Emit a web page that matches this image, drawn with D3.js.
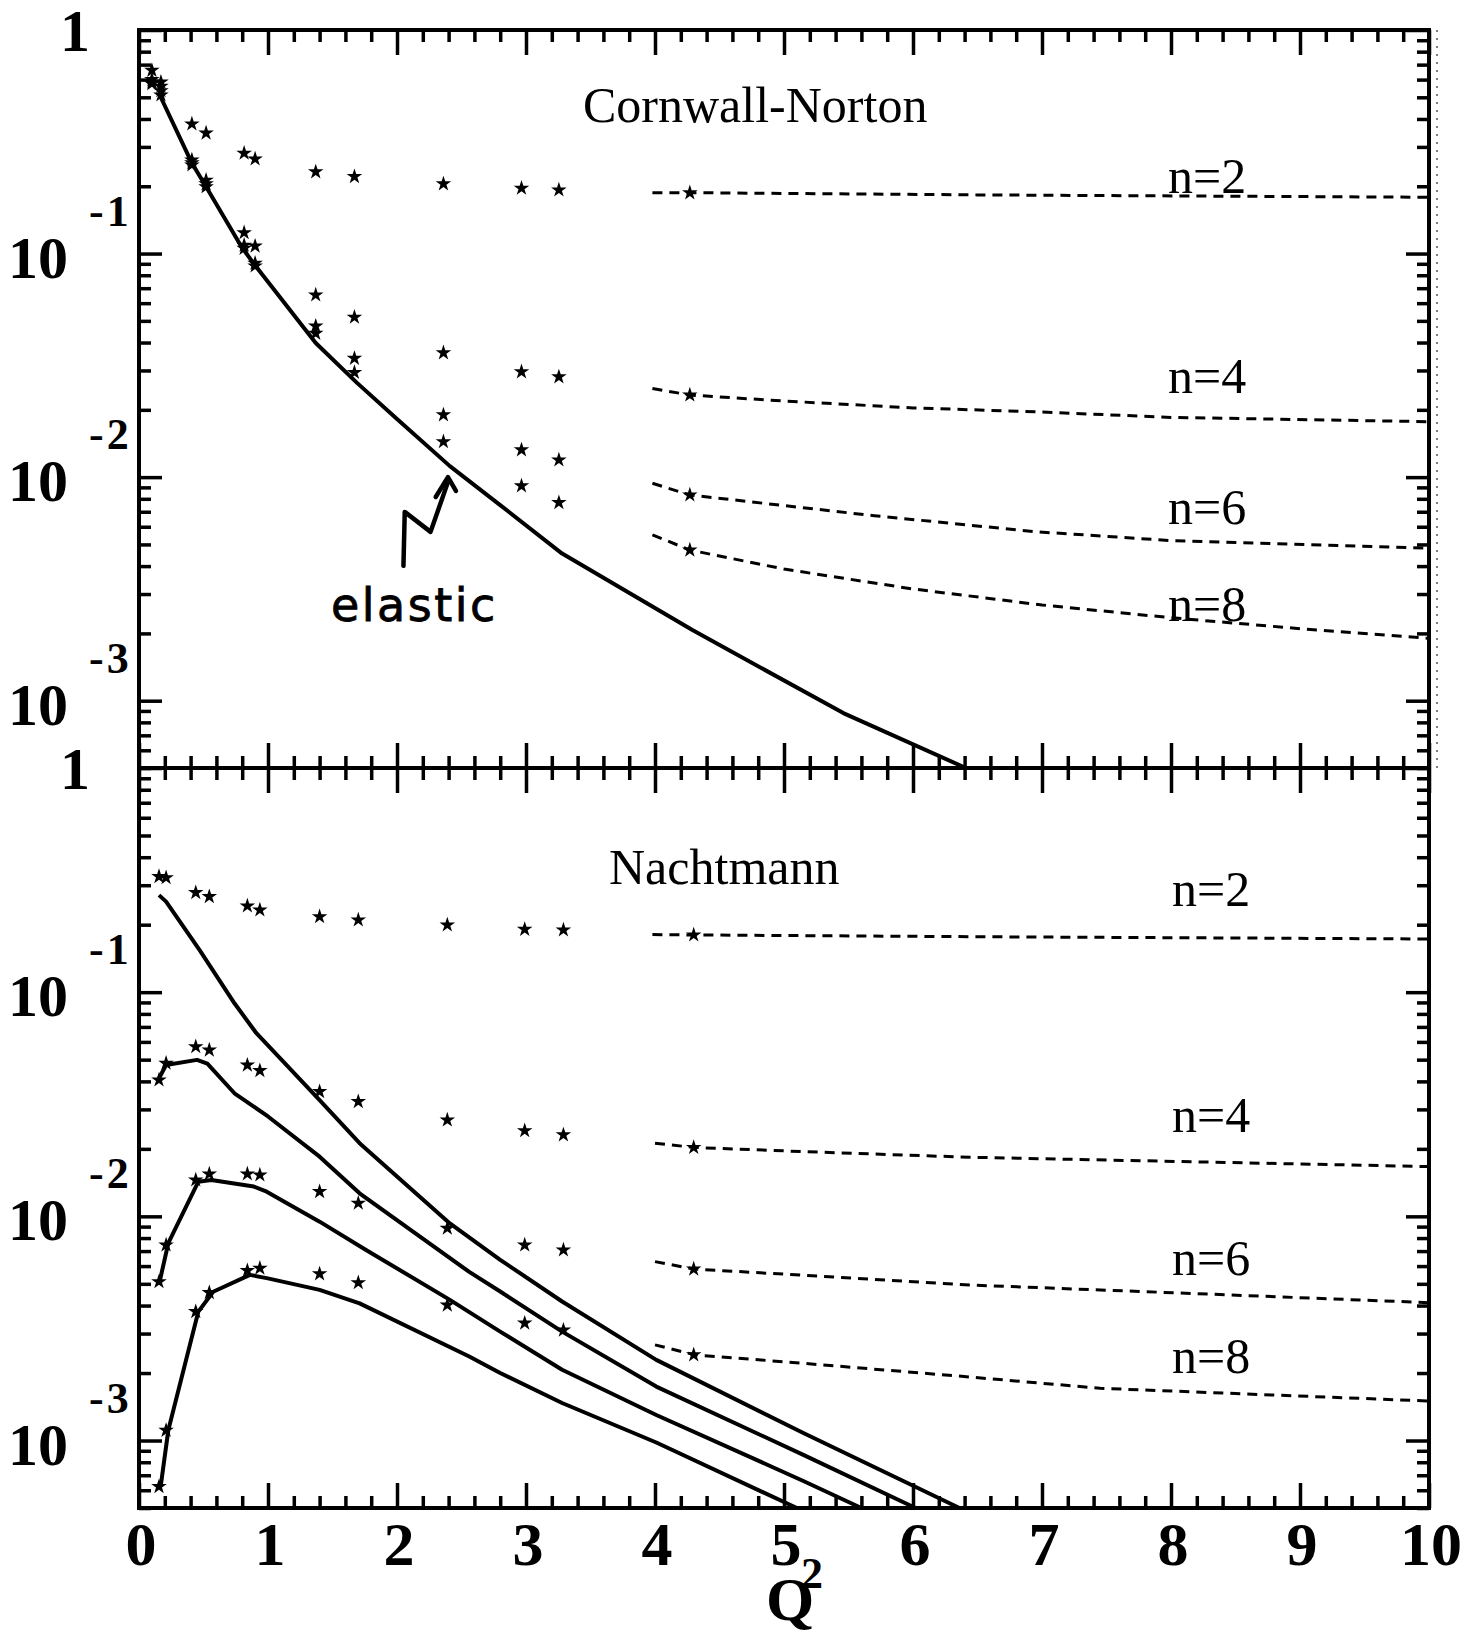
<!DOCTYPE html>
<html>
<head>
<meta charset="utf-8">
<script src="https://cdn.jsdelivr.net/npm/d3@7"></script>
<style>
  body { margin: 0; background: #fff; }
  svg { display: block; }
</style>
</head>
<body>
<div id="chart"></div>
<script>
// ---------- data ----------
// Q^2 values of the data columns (upper and lower panel)
var qCN = [0.10, 0.17, 0.41, 0.52, 0.815, 0.90, 1.37, 1.67, 2.36, 2.965, 3.255, 4.27];
var qNa = [0.155, 0.21, 0.44, 0.545, 0.84, 0.937, 1.40, 1.70, 2.39, 2.99, 3.29, 4.30];

// Cornwall-Norton moments (stars)
var cnN2 = [0.66, 0.585, 0.38, 0.346, 0.281, 0.265, 0.232, 0.221, 0.205, 0.196, 0.1925, 0.187];
var cnN4 = [0.60, 0.56, 0.262, 0.213, 0.124, 0.108, 0.0653, 0.0519, 0.036, 0.0296, 0.0281, 0.0233];
var cnN6 = [0.585, 0.535, 0.255, 0.205, 0.109, 0.0905, 0.0474, 0.034, 0.019, 0.01324, 0.01194, 0.00832];
var cnN8 = [0.575, 0.512, 0.249, 0.199, 0.1055, 0.088, 0.044, 0.0294, 0.0144, 0.00914, 0.00769, 0.00472];

// Nachtmann moments (stars)
var naN2 = [0.328, 0.324, 0.278, 0.267, 0.2424, 0.2326, 0.217, 0.21, 0.1995, 0.1906, 0.1894, 0.18];
var naN4 = [0.0406, 0.0482, 0.0571, 0.0552, 0.0473, 0.0447, 0.036, 0.0325, 0.0269, 0.0241, 0.0231, 0.0203];
var naN6 = [0.00511, 0.00745, 0.01453, 0.01545, 0.01545, 0.0153, 0.0129, 0.01144, 0.00885, 0.00745, 0.00708, 0.00582];
var naN8 = [0.000623, 0.00111, 0.00376, 0.00457, 0.00573, 0.00587, 0.00554, 0.00506, 0.00402, 0.00334, 0.00311, 0.00241];

// elastic curve, upper panel  [Q^2, value]
var cnElastic = [[0.155, 0.52], [0.41, 0.254], [0.52, 0.199], [0.8, 0.106], [0.91, 0.087],
  [1.37, 0.0398], [1.69, 0.0264], [2.0, 0.0182], [2.41, 0.0112], [2.8, 0.0075],
  [3.28, 0.00455], [4.29, 0.00207], [5.46, 0.00088], [6.41, 0.0005]];

// elastic curves, lower panel, n=2,4,6,8
var naElN2 = [[0.155, 0.271], [0.21, 0.2534], [0.47, 0.154], [0.74, 0.0892], [0.91, 0.0656],
  [1.40, 0.033], [1.71, 0.0212], [2.41, 0.0093], [2.8, 0.0064],
  [3.28, 0.00417], [4.01, 0.00229], [5.15, 0.00108], [6.36, 0.0005]];
var naElN4 = [[0.155, 0.0413], [0.21, 0.0473], [0.45, 0.0499], [0.53, 0.048], [0.74, 0.0354],
  [1.0, 0.0279], [1.40, 0.01846], [1.71, 0.01267], [2.56, 0.00565], [2.8, 0.00462],
  [3.28, 0.00306], [4.01, 0.00174], [5.15, 0.000863], [6.02, 0.0005]];
var naElN6 = [[0.16, 0.00511], [0.227, 0.00759], [0.46, 0.01428], [0.56, 0.01453], [0.89, 0.01358],
  [0.99, 0.01288], [1.40, 0.00947], [1.76, 0.00708], [2.41, 0.00424], [2.8, 0.00306],
  [3.28, 0.00207], [4.01, 0.0013], [5.15, 0.00066], [5.6, 0.0005]];
var naElN8 = [[0.168, 0.000623], [0.227, 0.00111], [0.46, 0.00376], [0.575, 0.00461], [0.86, 0.00548],
  [0.99, 0.0053], [1.40, 0.0047], [1.71, 0.00409], [2.56, 0.00237], [2.8, 0.002],
  [3.28, 0.00147], [4.01, 0.00098], [5.1, 0.0005]];

// extrapolations (dashed), upper panel
var cnExt2 = [[3.98, 0.1872], [4.27, 0.1872], [6.5, 0.183], [10, 0.1786]];
var cnExt4 = [[3.98, 0.0249], [4.27, 0.0233], [5.0, 0.0219], [6.0, 0.0204], [6.95, 0.0196], [8.0, 0.0185], [10, 0.0177]];
var cnExt6 = [[3.98, 0.00939], [4.27, 0.00832], [5.7, 0.00672], [6.95, 0.0057], [8.0, 0.0052], [10, 0.00481]];
var cnExt8 = [[3.98, 0.00552], [4.27, 0.00472], [5.0, 0.00388], [6.0, 0.00316], [7.0, 0.00268], [8.0, 0.00235], [9.0, 0.0021], [10, 0.0019]];

// extrapolations (dashed), lower panel
var naExt2 = [[3.98, 0.1806], [4.30, 0.18], [6.44, 0.1768], [10, 0.1727]];
var naExt4 = [[4.0, 0.0212], [4.30, 0.0203], [5.15, 0.01944], [6.44, 0.01835], [10, 0.01667]];
var naExt6 = [[4.0, 0.00628], [4.30, 0.00582], [5.3, 0.0054], [6.44, 0.00494], [8.2, 0.00452], [10, 0.00412]];
var naExt8 = [[4.0, 0.00267], [4.31, 0.00241], [5.15, 0.00221], [6.44, 0.00192], [7.45, 0.00171], [10, 0.0015]];

// handwritten arrow next to "elastic" (upper panel)
var arrowShaft = [[2.05, 0.00401], [2.06, 0.00699], [2.26, 0.00569], [2.39, 0.00933]];
var arrowHead = [[2.30, 0.00815], [2.395, 0.01], [2.457, 0.00867]];

// tick labels
var xTickLabels = ["0", "1", "2", "3", "4", "5", "6", "7", "8", "9", "10"];
var yDecades = [1, 0.1, 0.01, 0.001];
var yExpLabels = ["", "-1", "-2", "-3"];
var nLabels = ["n=2", "n=4", "n=6", "n=8"];

// ---------- drawing ----------
var W = 1470, H = 1633;
var left = 139, right = 1429, top1 = 30, mid = 768, bot = 1508;

var svg = d3.select("#chart").append("svg")
  .attr("width", W).attr("height", H)
  .style("font-family", "'Liberation Serif', 'Times New Roman', serif");

var x = d3.scaleLinear().domain([0, 10]).range([left, right]);
var yTop = d3.scaleLog().domain([5e-4, 1]).range([mid, top1]);
var yBot = d3.scaleLog().domain([5e-4, 1]).range([bot, mid]);

var xMajor = d3.range(0, 11);
var xMinor = d3.range(0, 50).map(function (i) { return i * 0.2; })
  .filter(function (v) { return Math.abs(v - Math.round(v)) > 1e-6; });
var yMinor = [];
[1e-4, 1e-3, 1e-2, 1e-1].forEach(function (d) {
  d3.range(2, 10).forEach(function (k) {
    var v = k * d;
    if (v >= 4.99e-4 && v < 1) yMinor.push(v);
  });
});

function styleTicks(g) {
  g.select(".domain").remove();
  g.selectAll(".tick line").attr("stroke", "#000").attr("stroke-width", 3.5);
}

function addTicks(axis, values, size, transform) {
  svg.append("g")
    .attr("transform", transform)
    .call(axis.tickValues(values).tickSizeInner(-size).tickSizeOuter(0).tickFormat(""))
    .call(styleTicks);
}

function drawPanel(y, yA, yB) {
  // y ticks on both sides, pointing inwards
  addTicks(d3.axisLeft(y), yDecades, 23, "translate(" + left + ",0)");
  addTicks(d3.axisLeft(y), yMinor, 12, "translate(" + left + ",0)");
  addTicks(d3.axisRight(y), yDecades, 23, "translate(" + right + ",0)");
  addTicks(d3.axisRight(y), yMinor, 12, "translate(" + right + ",0)");
  // x ticks on top and bottom of the panel
  addTicks(d3.axisTop(x), xMajor, 25, "translate(0," + yA + ")");
  addTicks(d3.axisTop(x), xMinor, 12, "translate(0," + yA + ")");
  addTicks(d3.axisBottom(x), xMajor, 25, "translate(0," + yB + ")");
  addTicks(d3.axisBottom(x), xMinor, 12, "translate(0," + yB + ")");

  // frame
  svg.append("rect")
    .attr("x", left).attr("y", yA)
    .attr("width", right - left).attr("height", yB - yA)
    .attr("fill", "none").attr("stroke", "#000").attr("stroke-width", 4);

  // y tick labels
  yDecades.forEach(function (v, i) {
    var py = y(v);
    if (i === 0) {
      svg.append("text").attr("x", 75).attr("y", py + 21)
        .attr("text-anchor", "middle").attr("font-size", 60).attr("font-weight", "bold")
        .text("1");
    } else {
      svg.append("text").attr("x", 68).attr("y", py + 24)
        .attr("text-anchor", "end").attr("font-size", 60).attr("font-weight", "bold")
        .text("10");
      svg.append("text").attr("x", 89).attr("y", py - 28)
        .attr("font-size", 44).attr("font-weight", "bold").attr("letter-spacing", 3)
        .text(yExpLabels[i]);
    }
  });
}

drawPanel(yTop, top1, mid);
drawPanel(yBot, mid, bot);

// scan artefact: faint dotted line right of the upper frame
svg.append("line")
  .attr("x1", right + 8).attr("x2", right + 8).attr("y1", top1).attr("y2", mid)
  .attr("stroke", "#555").attr("stroke-width", 1.5).attr("stroke-dasharray", "2,6");

// x tick labels
xMajor.forEach(function (v, i) {
  svg.append("text").attr("x", x(v) + 2).attr("y", 1565)
    .attr("text-anchor", "middle").attr("font-size", 62).attr("font-weight", "bold")
    .text(xTickLabels[i]);
});
svg.append("text").attr("x", 790).attr("y", 1620)
  .attr("text-anchor", "middle").attr("font-size", 62).attr("font-weight", "bold").text("Q");
svg.append("text").attr("x", 801).attr("y", 1588)
  .attr("font-size", 44).attr("font-weight", "bold").text("2");

function lineFor(y) {
  return d3.line().x(function (d) { return x(d[0]); }).y(function (d) { return y(d[1]); });
}

function solid(data, y) {
  svg.append("path").datum(data)
    .attr("fill", "none").attr("stroke", "#000").attr("stroke-width", 4)
    .attr("stroke-linejoin", "round")
    .attr("d", lineFor(y));
}

function dashed(data, y) {
  svg.append("path").datum(data)
    .attr("fill", "none").attr("stroke", "#000").attr("stroke-width", 3)
    .attr("stroke-dasharray", "10,7")
    .attr("d", lineFor(y));
}

var star = d3.symbol().type(d3.symbolStar).size(75);
function stars(qs, vals, y) {
  svg.append("g").selectAll("path")
    .data(vals)
    .join("path")
    .attr("transform", function (d, i) { return "translate(" + x(qs[i]) + "," + y(d) + ")"; })
    .attr("d", star)
    .attr("fill", "#000");
}

// upper panel
solid(cnElastic, yTop);
[cnExt2, cnExt4, cnExt6, cnExt8].forEach(function (d) { dashed(d, yTop); });
[cnN2, cnN4, cnN6, cnN8].forEach(function (d) { stars(qCN, d, yTop); });

// lower panel
[naElN2, naElN4, naElN6, naElN8].forEach(function (d) { solid(d, yBot); });
[naExt2, naExt4, naExt6, naExt8].forEach(function (d) { dashed(d, yBot); });
[naN2, naN4, naN6, naN8].forEach(function (d) { stars(qNa, d, yBot); });

// titles and labels
svg.append("text").attr("x", 583).attr("y", 122).attr("font-size", 50).text("Cornwall-Norton");
svg.append("text").attr("x", 609).attr("y", 884).attr("font-size", 50).text("Nachtmann");

var nTopY = [193, 393, 524, 621];
var nBotY = [906, 1132, 1275, 1373];
nLabels.forEach(function (t, i) {
  svg.append("text").attr("x", 1168).attr("y", nTopY[i]).attr("font-size", 50).text(t);
  svg.append("text").attr("x", 1172).attr("y", nBotY[i]).attr("font-size", 50).text(t);
});

// handwritten "elastic" note with arrow
svg.append("text").attr("x", 331).attr("y", 621)
  .attr("font-family", "'DejaVu Sans', sans-serif")
  .attr("font-size", 46).attr("letter-spacing", 2.5)
  .attr("stroke", "#000").attr("stroke-width", 0.8)
  .text("elastic");
svg.append("path").datum(arrowShaft)
  .attr("fill", "none").attr("stroke", "#000").attr("stroke-width", 4.5)
  .attr("stroke-linejoin", "round").attr("stroke-linecap", "round")
  .attr("d", lineFor(yTop));
svg.append("path").datum(arrowHead)
  .attr("fill", "none").attr("stroke", "#000").attr("stroke-width", 4.5)
  .attr("stroke-linejoin", "round").attr("stroke-linecap", "round")
  .attr("d", lineFor(yTop));
</script>
</body>
</html>
